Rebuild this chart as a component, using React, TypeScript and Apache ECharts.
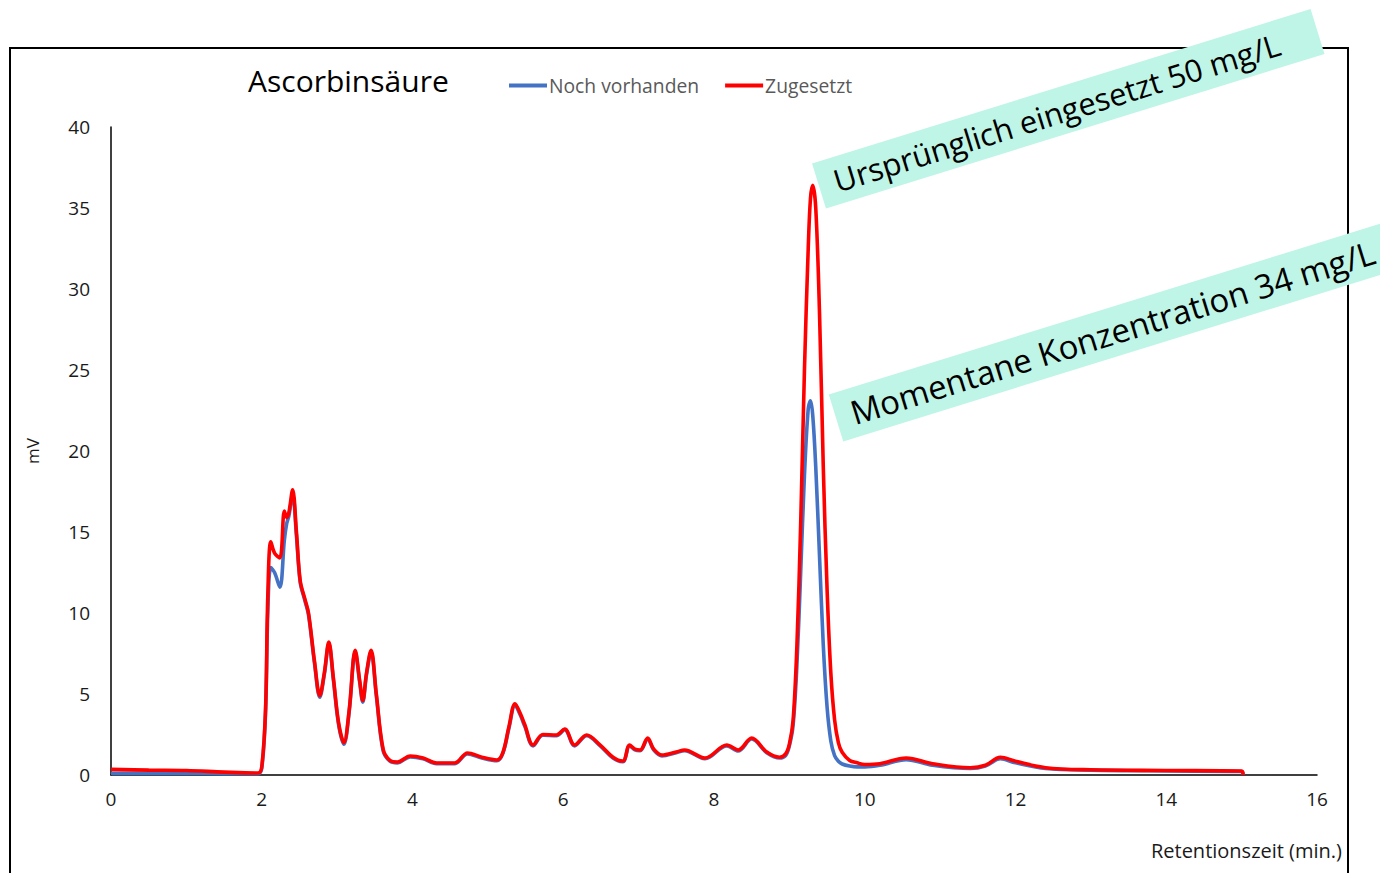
import React, { useEffect, useRef } from "react";
import * as echarts from "echarts";

const times = [
  0, 0.5, 1.0, 1.5, 1.95, 2.0, 2.05, 2.08, 2.12, 2.17, 2.24, 2.3, 2.33, 2.36, 2.41, 2.46, 2.51, 2.57, 2.62, 2.7,
  2.77, 2.83, 2.89, 2.95, 3.02, 3.09, 3.16, 3.24, 3.3, 3.34, 3.39, 3.45, 3.52, 3.61, 3.7, 3.8, 3.97, 4.14, 4.32, 4.56,
  4.73, 4.92, 5.12, 5.2, 5.28, 5.36, 5.43, 5.49, 5.6, 5.73, 5.91, 6.02, 6.15, 6.31, 6.49, 6.66, 6.79, 6.88, 6.95, 7.02,
  7.12, 7.2, 7.31, 7.5, 7.61, 7.88, 8.17, 8.32, 8.5, 8.7, 8.87, 8.95, 9.0, 9.05, 9.1, 9.15, 9.2, 9.25, 9.28, 9.31,
  9.35, 9.4, 9.45, 9.5, 9.55, 9.6, 9.65, 9.7, 9.8, 9.9, 10.0, 10.2, 10.55, 10.9, 11.4, 11.6, 11.8, 12.0, 12.4, 13.0,
  14.0, 15.0, 15.02,
];

const zugesetzt = [
  0.35, 0.3, 0.28, 0.18, 0.12, 0.5, 4.0, 11.0, 14.4, 13.7, 13.4, 16.3, 15.9, 16.2, 17.6, 15.0, 12.0, 10.9, 10.0, 7.0,
  4.9, 6.3, 8.2, 6.0, 3.2, 2.0, 4.0, 7.7, 5.8, 4.6, 6.3, 7.7, 5.0, 1.6, 0.9, 0.8, 1.17, 1.05, 0.74, 0.74,
  1.36, 1.1, 0.93, 1.4, 3.0, 4.4, 3.8, 3.1, 1.85, 2.5, 2.47, 2.84, 1.85, 2.47, 1.85, 1.1, 0.86, 1.85, 1.6, 1.54,
  2.28, 1.6, 1.23, 1.42, 1.54, 1.05, 1.85, 1.54, 2.28, 1.42, 1.1, 1.3, 1.9, 3.4, 8.0, 15.5, 25.0, 32.5, 35.6, 36.4,
  35.0, 28.5, 19.0, 11.5, 6.3, 3.4, 2.0, 1.4, 0.9, 0.75, 0.65, 0.7, 1.05, 0.7, 0.45, 0.6, 1.1, 0.85, 0.45, 0.32,
  0.28, 0.25, 0.0,
];

const nochVorhanden = [
  0.1, 0.1, 0.1, 0.08, 0.08, 0.4, 3.8, 10.0, 12.8, 12.5, 11.6, 14.5, 15.5, 16.0, 17.3, 14.8, 11.9, 10.8, 9.9, 6.9,
  4.8, 6.2, 8.1, 5.9, 3.1, 1.9, 3.9, 7.6, 5.7, 4.5, 6.2, 7.6, 4.9, 1.5, 0.85, 0.75, 1.12, 1.0, 0.7, 0.7,
  1.3, 1.05, 0.88, 1.35, 2.9, 4.3, 3.7, 3.0, 1.8, 2.45, 2.42, 2.8, 1.8, 2.42, 1.8, 1.05, 0.82, 1.8, 1.55, 1.5,
  2.22, 1.55, 1.18, 1.38, 1.5, 1.0, 1.8, 1.48, 2.22, 1.38, 1.05, 1.2, 1.8, 3.1, 6.8, 12.5, 18.5, 22.6, 23.1, 22.2,
  19.0, 13.5, 8.0, 4.2, 2.1, 1.2, 0.85, 0.68, 0.55, 0.5, 0.5, 0.6, 0.95, 0.6, 0.4, 0.55, 1.0, 0.75, 0.4, 0.3,
  0.25, 0.22, 0.0,
];

const yTicks = [0, 5, 10, 15, 20, 25, 30, 35, 40];
const xTicks = [0, 2, 4, 6, 8, 10, 12, 14, 16];

const FONT = '"Open Sans", "Noto Sans", sans-serif';

export default function App() {
  const ref = useRef<HTMLDivElement>(null);
  useEffect(() => {
    document.body.style.margin = "0";
    const chart = echarts.init(ref.current!, null, { renderer: "svg" });
    const blueData = times.map((t, i) => [t, nochVorhanden[i]]);
    const redData = times.map((t, i) => [t, zugesetzt[i]]);
    chart.setOption({
      animation: false,
      backgroundColor: "#ffffff",
      title: {
        text: "Ascorbinsäure",
        left: 243,
        top: 60,
        textStyle: { fontFamily: FONT, fontSize: 30, fontWeight: "normal", color: "#000" },
      },
      legend: {
        left: 504,
        top: 71,
        icon: "rect",
        itemWidth: 38,
        itemHeight: 4,
        itemGap: 26,
        textStyle: { fontFamily: FONT, fontSize: 19.3, color: "#595959", padding: [0, 0, 0, -3] },
        data: ["Noch vorhanden", "Zugesetzt"],
      },
      grid: { left: 111, right: 63, top: 127, bottom: 98, containLabel: false },
      xAxis: {
        type: "value",
        min: xTicks[0],
        max: xTicks[xTicks.length - 1],
        interval: 2,
        axisLine: { show: true, lineStyle: { color: "#000", width: 1.5 } },
        axisTick: { show: false },
        splitLine: { show: false },
        axisLabel: { fontFamily: FONT, fontSize: 19, color: "#1a1a1a", margin: 14 },
      },
      yAxis: {
        type: "value",
        min: yTicks[0],
        max: yTicks[yTicks.length - 1],
        interval: 5,
        name: "mV",
        nameLocation: "middle",
        nameRotate: 90,
        nameGap: 70,
        nameTextStyle: { fontFamily: FONT, fontSize: 17, color: "#1a1a1a" },
        axisLine: { show: true, lineStyle: { color: "#000", width: 1.5 } },
        axisTick: { show: false },
        splitLine: { show: false },
        axisLabel: { fontFamily: FONT, fontSize: 19, color: "#1a1a1a", margin: 21 },
      },
      series: [
        {
          name: "Noch vorhanden",
          type: "line",
          data: blueData,
          showSymbol: false,
          smooth: 0.35,
          lineStyle: { color: "#4472C4", width: 3.6 },
          itemStyle: { color: "#4472C4" },
          z: 2,
        },
        {
          name: "Zugesetzt",
          type: "line",
          data: redData,
          showSymbol: false,
          smooth: 0.35,
          lineStyle: { color: "#FF0000", width: 3.6 },
          itemStyle: { color: "#FF0000" },
          z: 3,
        },
      ],
      graphic: [
        {
          type: "rect",
          z: -1,
          shape: { x: 10, y: 48, width: 1338, height: 840 },
          style: { fill: "none", stroke: "#000", lineWidth: 2 },
        },
        {
          type: "text",
          right: 38,
          top: 840,
          style: { text: "Retentionszeit (min.)", font: `20px ${FONT}`, fill: "#1a1a1a" },
        },
        {
          type: "text",
          x: 819,
          y: 186,
          rotation: 0.3,
          z: 10,
          style: {
            text: "Ursprünglich eingesetzt 50 mg/L",
            font: `31px ${FONT}`,
            fill: "#000",
            align: "left",
            verticalAlign: "middle",
            backgroundColor: "#bff5e6",
            padding: [8, 40, 8, 16],
          },
        },
        {
          type: "text",
          x: 836,
          y: 418,
          rotation: 0.3,
          z: 10,
          style: {
            text: "Momentane Konzentration 34 mg/L",
            font: `33px ${FONT}`,
            fill: "#000",
            align: "left",
            verticalAlign: "middle",
            backgroundColor: "#bff5e6",
            padding: [8, 30, 8, 16],
          },
        },
      ],
    });
    return () => chart.dispose();
  }, []);
  return <div ref={ref} style={{ width: 1380, height: 873 }} />;
}
